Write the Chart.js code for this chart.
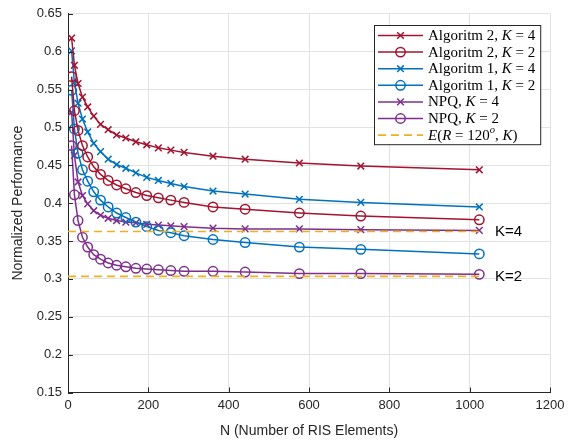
<!DOCTYPE html>
<html>
<head>
<meta charset="utf-8">
<script src="https://cdn.jsdelivr.net/npm/chart.js@4.4.1/dist/chart.umd.min.js"></script>
<style>
  html, body { margin: 0; padding: 0; background: #fff; }
</style>
</head>
<body>
<canvas id="perfChart" width="575" height="440"></canvas>
<script>
// number of RIS elements (perfect squares)
const N = [9, 16, 25, 36, 49, 64, 81, 100, 121, 144, 169, 196, 225, 256, 289, 361, 441, 576, 729, 1024];

const alg2K4 = [0.618, 0.582, 0.558, 0.540, 0.527, 0.515, 0.504, 0.497, 0.490, 0.486, 0.481, 0.477, 0.473, 0.470, 0.467, 0.462, 0.458, 0.453, 0.449, 0.444];
const alg2K2 = [0.567, 0.522, 0.496, 0.476, 0.461, 0.448, 0.438, 0.430, 0.424, 0.419, 0.414, 0.410, 0.407, 0.404, 0.401, 0.395, 0.392, 0.387, 0.383, 0.378];
const alg1K4 = [0.601, 0.559, 0.532, 0.511, 0.494, 0.479, 0.468, 0.458, 0.451, 0.446, 0.440, 0.434, 0.430, 0.426, 0.422, 0.416, 0.412, 0.405, 0.401, 0.395];
const alg1K2 = [0.549, 0.498, 0.466, 0.444, 0.429, 0.415, 0.404, 0.395, 0.387, 0.381, 0.375, 0.369, 0.364, 0.361, 0.357, 0.352, 0.348, 0.342, 0.339, 0.333];
const npqK4  = [0.520, 0.463, 0.428, 0.410, 0.399, 0.390, 0.384, 0.380, 0.377, 0.375, 0.374, 0.372, 0.371, 0.370, 0.369, 0.367, 0.366, 0.366, 0.365, 0.364];
const npqK2  = [0.476, 0.411, 0.377, 0.355, 0.342, 0.332, 0.326, 0.321, 0.318, 0.316, 0.314, 0.313, 0.312, 0.311, 0.310, 0.310, 0.309, 0.307, 0.307, 0.306];

// E(R = 120deg, K) reference levels
const refN  = [0, 1024];
const refK4 = [0.3625, 0.3625];
const refK2 = [0.3033, 0.3033];

const xTicks = [0, 200, 400, 600, 800, 1000, 1200];
const yTicks = [0.15, 0.2, 0.25, 0.3, 0.35, 0.4, 0.45, 0.5, 0.55, 0.6, 0.65];

const seriesLabels = [
  'Algoritm 2, $K = 4$',
  'Algoritm 2, $K = 2$',
  'Algoritm 1, $K = 4$',
  'Algoritm 1, $K = 2$',
  'NPQ, $K = 4$',
  'NPQ, $K = 2$',
  '$E(R = 120^o, K)$'
];

// side labels for the two reference levels
const refTags = [
  { text: 'K=4', y: refK4[0] },
  { text: 'K=2', y: refK2[0] }
];

const RED = '#A2142F', BLUE = '#0072BD', PURPLE = '#7E2F8E', GOLD = '#EDB120';
const INK = '#262626';
const LW = 1.5;

const pts = (xs, ys) => xs.map((x, i) => ({ x: x, y: ys[i] }));

function curve(label, ys, color, marker) {
  return {
    label: label,
    data: pts(N, ys),
    borderColor: color,
    borderWidth: LW,
    pointStyle: marker,
    pointRadius: 4.7,
    pointHoverRadius: 4.7,
    pointBorderColor: color,
    pointBackgroundColor: 'rgba(0,0,0,0)',
    pointBorderWidth: LW,
    tension: 0,
    fill: false
  };
}

function refLine(ys) {
  return {
    label: seriesLabels[6],
    data: pts(refN, ys),
    borderColor: GOLD,
    borderWidth: 1.6,
    borderDash: [8, 5],
    pointRadius: 0,
    fill: false,
    tension: 0
  };
}

const datasets = [
  refLine(refK4),
  refLine(refK2),
  curve(seriesLabels[0], alg2K4, RED, 'crossRot'),
  curve(seriesLabels[1], alg2K2, RED, 'circle'),
  curve(seriesLabels[2], alg1K4, BLUE, 'crossRot'),
  curve(seriesLabels[3], alg1K2, BLUE, 'circle'),
  curve(seriesLabels[4], npqK4, PURPLE, 'crossRot'),
  curve(seriesLabels[5], npqK2, PURPLE, 'circle')
];

// legend entries: [label, color, marker, dashed]
const legendRows = [
  [seriesLabels[0], RED, 'cross', false],
  [seriesLabels[1], RED, 'circle', false],
  [seriesLabels[2], BLUE, 'cross', false],
  [seriesLabels[3], BLUE, 'circle', false],
  [seriesLabels[4], PURPLE, 'cross', false],
  [seriesLabels[5], PURPLE, 'circle', false],
  [seriesLabels[6], GOLD, null, true]
];

// split "$...$" math into upright / italic / superscript pieces
function parseLabel(str) {
  const out = [];
  str.split('$').forEach((part, i) => {
    if (!part) return;
    if (i % 2 === 0) { out.push({ t: part, it: false }); return; }
    part.replace(/\^(\w)|([A-Za-z]+)|([^A-Za-z^]+)/g, (m, sup, letters, other) => {
      if (sup) out.push({ t: sup, it: true, sup: true });
      else if (letters) out.push({ t: letters, it: true });
      else out.push({ t: other, it: false });
      return m;
    });
  });
  return out;
}

function segFont(s) {
  return (s.it ? 'italic ' : '') + (s.sup ? '10.5px' : '15px') + ' "Liberation Serif", "Times New Roman", serif';
}

function drawMarker(ctx, kind, x, y, r) {
  ctx.beginPath();
  if (kind === 'circle') {
    ctx.arc(x, y, r, 0, Math.PI * 2);
  } else {
    const d = r * Math.SQRT1_2;
    ctx.moveTo(x - d, y - d); ctx.lineTo(x + d, y + d);
    ctx.moveTo(x - d, y + d); ctx.lineTo(x + d, y - d);
  }
  ctx.stroke();
}

const legendBox = {
  id: 'legendBox',
  afterDraw(chart) {
    const ctx = chart.ctx;
    const area = chart.chartArea;
    const rowH = 16.6, sampleW = 45, gap = 5;

    const parsed = legendRows.map(r => parseLabel(r[0]));
    let textW = 0;
    parsed.forEach(segs => {
      let w = 0;
      segs.forEach(s => { ctx.font = segFont(s); w += ctx.measureText(s.t).width; });
      textW = Math.max(textW, w);
    });

    const boxW = 4 + sampleW + gap + textW + 5;
    const boxH = rowH * legendRows.length + 3;
    const left = Math.round(area.right - 10 - boxW);
    const top = Math.round(area.top + 11);

    ctx.save();
    ctx.fillStyle = '#fff';
    ctx.fillRect(left, top, boxW, boxH);
    ctx.strokeStyle = INK;
    ctx.lineWidth = 1;
    ctx.strokeRect(left + 0.5, top + 0.5, boxW, boxH);

    legendRows.forEach((row, i) => {
      const [, color, marker, dashed] = row;
      const y = top + 10.5 + i * rowH;
      const x0 = left + 4, x1 = x0 + sampleW;
      ctx.strokeStyle = color;
      ctx.lineWidth = dashed ? 1.6 : LW;
      ctx.setLineDash(dashed ? [8, 5] : []);
      ctx.beginPath();
      ctx.moveTo(x0, y); ctx.lineTo(x1, y);
      ctx.stroke();
      ctx.setLineDash([]);
      if (marker) drawMarker(ctx, marker, (x0 + x1) / 2, y, 4.7);

      let tx = x1 + gap;
      ctx.fillStyle = '#000';
      ctx.textBaseline = 'middle';
      parsed[i].forEach(s => {
        ctx.font = segFont(s);
        ctx.fillText(s.t, tx, s.sup ? y - 5 : y + 0.5);
        tx += ctx.measureText(s.t).width;
      });
    });
    ctx.restore();
  }
};

// short inward tick marks on the two axes
const innerTicks = {
  id: 'innerTicks',
  afterDatasetsDraw(chart) {
    const { ctx, chartArea: a, scales } = chart;
    ctx.save();
    ctx.strokeStyle = INK;
    ctx.lineWidth = 1;
    ctx.beginPath();
    scales.x.ticks.forEach(t => {
      const px = Math.round(scales.x.getPixelForValue(t.value)) + 0.5;
      ctx.moveTo(px, a.bottom); ctx.lineTo(px, a.bottom - 5);
    });
    scales.y.ticks.forEach(t => {
      const py = Math.round(scales.y.getPixelForValue(t.value)) + 0.5;
      ctx.moveTo(a.left, py); ctx.lineTo(a.left + 5, py);
    });
    ctx.stroke();
    ctx.restore();
  }
};

const refLabels = {
  id: 'refLabels',
  afterDatasetsDraw(chart) {
    const { ctx, scales } = chart;
    ctx.save();
    ctx.fillStyle = '#000';
    ctx.font = '15px "Liberation Sans", Arial, sans-serif';
    ctx.textBaseline = 'middle';
    refTags.forEach(tag => {
      ctx.fillText(tag.text, scales.x.getPixelForValue(1063), scales.y.getPixelForValue(tag.y) + 0.5);
    });
    ctx.restore();
  }
};

new Chart(document.getElementById('perfChart').getContext('2d'), {
  type: 'line',
  data: { datasets: datasets },
  options: {
    responsive: false,
    animation: false,
    devicePixelRatio: 1,
    layout: { padding: { top: 12, right: 25, left: 0, bottom: 0 } },
    plugins: {
      legend: { display: false },
      tooltip: { enabled: false }
    },
    scales: {
      x: {
        type: 'linear',
        min: 0,
        max: 1200,
        afterBuildTicks: s => { s.ticks = xTicks.map(v => ({ value: v })); },
        afterFit: s => { s.height = 47.5; },
        ticks: {
          color: INK,
          padding: 5,
          font: { family: '"Liberation Sans", Arial, sans-serif', size: 13 },
          callback: v => String(v)
        },
        grid: { color: '#e2e2e2', drawTicks: false },
        border: { color: INK, width: 1 },
        title: {
          display: true,
          text: 'N (Number of RIS Elements)',
          color: INK,
          font: { family: '"Liberation Sans", Arial, sans-serif', size: 14 },
          padding: { top: 0, bottom: 0 }
        }
      },
      y: {
        type: 'linear',
        min: 0.15,
        max: 0.65,
        afterBuildTicks: s => { s.ticks = yTicks.map(v => ({ value: v })); },
        afterFit: s => { s.width = 68; },
        ticks: {
          color: INK,
          padding: 6,
          font: { family: '"Liberation Sans", Arial, sans-serif', size: 13 },
          callback: v => String(v)
        },
        grid: { color: '#e2e2e2', drawTicks: false },
        border: { color: INK, width: 1 },
        title: {
          display: true,
          text: 'Normalized Performance',
          color: INK,
          font: { family: '"Liberation Sans", Arial, sans-serif', size: 14 },
          padding: { top: 10, bottom: 0 }
        }
      }
    }
  },
  plugins: [innerTicks, refLabels, legendBox]
});
</script>
</body>
</html>
